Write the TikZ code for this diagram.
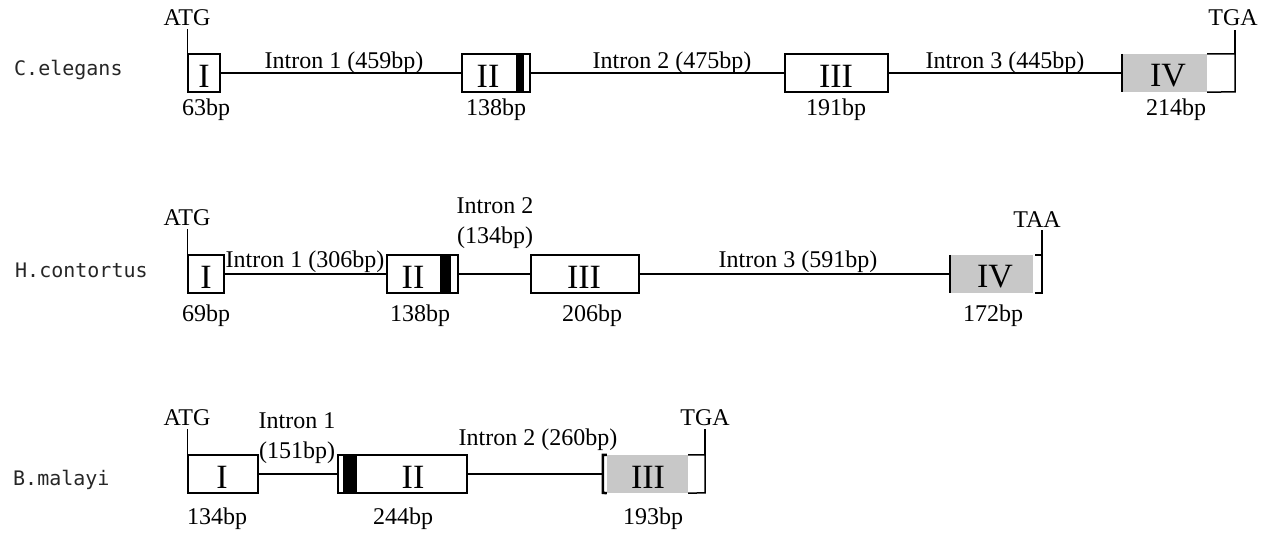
\documentclass[tikz,border=0pt]{standalone}
\usepackage{fontspec}
\setmainfont{Liberation Serif}
\newfontfamily\specfont{DejaVu Sans Mono}
\definecolor{exongray}{RGB}{200,200,200}
\begin{document}
\begin{tikzpicture}[x=1pt, y=-1pt,
        exon/.style={draw, line width=1.5pt, minimum height=38pt, inner sep=0pt},
        lastexon/.style={fill=exongray, minimum height=38pt, inner sep=0pt},
        intron/.style={line width=1.5pt},
        edge/.style={line width=2.5pt},
        txt/.style={inner sep=0pt, font=\fontsize{24}{30}\selectfont, align=center},
        num/.style={inner sep=0pt, font=\fontsize{34}{38}\selectfont},
        species/.style={anchor=west, inner sep=0pt, text=black!85, font=\specfont\fontsize{20}{24}\selectfont}]
        \useasboundingbox (0,0) rectangle (1274,540);

        \node [species] (ce) at (14, 70) {C.elegans};
        \node [exon, minimum width=32pt] (ce1) at (204, 73) {};
        \node [exon, minimum width=68pt] (ce2) at (496, 73) {};
        \fill (516, 54) rectangle (524, 92);
        \node [exon, minimum width=103pt] (ce3) at (836.5, 73) {};
        \node [lastexon, minimum width=85pt] (ce4) at (1164.5, 73) {};
        \draw [intron] (ce4.north east) -- ++(28, 0) coordinate (cestop) -- ++(0, 38) -- (ce4.south east);
        \draw [edge] (ce4.north west) -- (ce4.south west);
        \draw [intron] (ce1) -- (ce2);
        \draw [intron] (ce2) -- (ce3);
        \draw [intron] (ce3) -- (ce4);
        \draw [intron] (ce1.north west) -- ++(0, -24);
        \draw [intron] (cestop) -- ++(0, -24);
        \node [txt] (ceatg) at (187, 18) {ATG};
        \node [txt] (cetga) at (1233, 18) {TGA};
        \node [num] (ce1n) at (204, 76) {I};
        \node [num] (ce2n) at (488, 76) {II};
        \node [num] (ce3n) at (836, 76) {III};
        \node [num] (ce4n) at (1168, 76) {IV};
        \node [txt] (cei1) at (344, 63) {Intron 1 (459bp)};
        \node [txt] (cei2) at (672, 63) {Intron 2 (475bp)};
        \node [txt] (cei3) at (1005, 63) {Intron 3 (445bp)};
        \node [txt] (ce1l) at (206, 110) {63bp};
        \node [txt] (ce2l) at (496, 110) {138bp};
        \node [txt] (ce3l) at (836, 110) {191bp};
        \node [txt] (ce4l) at (1176, 110) {214bp};

        \node [species] (hc) at (15, 270) {H.contortus};
        \node [exon, minimum width=36pt] (hc1) at (206, 274) {};
        \node [exon, minimum width=71pt] (hc2) at (422.5, 274) {};
        \fill (440, 255) rectangle (451, 293);
        \node [exon, minimum width=108pt] (hc3) at (585, 274) {};
        \node [lastexon, minimum width=83pt] (hc4) at (991.5, 274) {};
        \draw [intron] ([xshift=2pt]hc4.north east) -- ++(7, 0) coordinate (hcstop) -- ++(0, 38) -- ++(-7, 0);
        \draw [edge] (hc4.north west) -- (hc4.south west);
        \draw [intron] (hc1) -- (hc2);
        \draw [intron] (hc2) -- (hc3);
        \draw [intron] (hc3) -- (hc4);
        \draw [intron] (hc1.north west) -- ++(0, -25);
        \draw [intron] (hcstop) -- ++(0, -25);
        \node [txt] (hcatg) at (187, 218) {ATG};
        \node [txt] (hctaa) at (1037, 220) {TAA};
        \node [num] (hc1n) at (206, 277) {I};
        \node [num] (hc2n) at (413, 277) {II};
        \node [num] (hc3n) at (584, 277) {III};
        \node [num] (hc4n) at (995, 277) {IV};
        \node [txt] (hci1) at (305, 262) {Intron 1 (306bp)};
        \node [txt] (hci2) at (495, 223) {Intron 2\\(134bp)};
        \node [txt] (hci3) at (798, 262) {Intron 3 (591bp)};
        \node [txt] (hc1l) at (206, 316) {69bp};
        \node [txt] (hc2l) at (420, 316) {138bp};
        \node [txt] (hc3l) at (592, 316) {206bp};
        \node [txt] (hc4l) at (993, 316) {172bp};

        \node [species] (bm) at (13, 480) {B.malayi};
        \node [exon, minimum width=70pt] (bm1) at (223, 474) {};
        \node [exon, minimum width=129pt] (bm2) at (402.5, 474) {};
        \fill (343, 455) rectangle (357, 493);
        \node [lastexon, minimum width=81pt] (bm3) at (647.5, 474) {};
        \draw [edge] (bm3.north west) -- ++(-4, 0) coordinate (bmstart) -- ++(0, 38) -- (bm3.south west);
        \draw [intron] (bm3.north east) -- ++(17, 0) coordinate (bmstop) -- ++(0, 38) -- (bm3.south east);
        \draw [intron] (bm1) -- (bm2);
        \draw [intron] (bm2) -- (bmstart |- bm2);
        \draw [intron] (bm1.north west) -- ++(0, -25);
        \draw [intron] (bmstop) -- ++(0, -26);
        \node [txt] (bmatg) at (187, 418) {ATG};
        \node [txt] (bmtga) at (705, 418) {TGA};
        \node [num] (bm1n) at (222, 477) {I};
        \node [num] (bm2n) at (413, 477) {II};
        \node [num] (bm3n) at (648, 477) {III};
        \node [txt] (bmi1) at (297, 438) {Intron 1\\(151bp)};
        \node [txt] (bmi2) at (538, 440) {Intron 2 (260bp)};
        \node [txt] (bm1l) at (217, 519) {134bp};
        \node [txt] (bm2l) at (403, 519) {244bp};
        \node [txt] (bm3l) at (653, 519) {193bp};
\end{tikzpicture}
\end{document}
